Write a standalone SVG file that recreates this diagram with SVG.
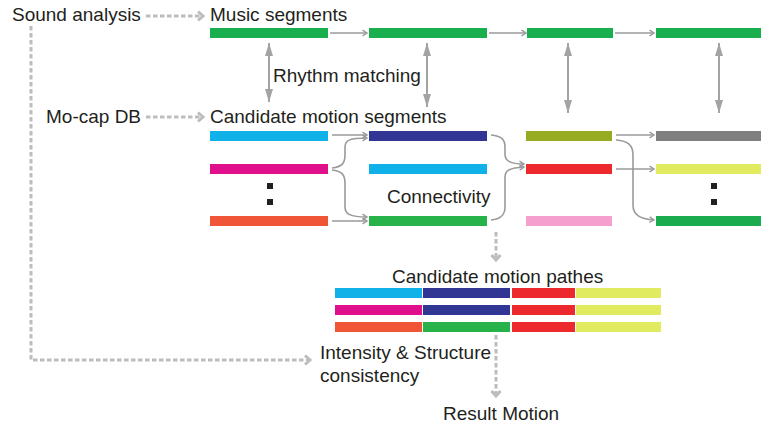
<svg xmlns="http://www.w3.org/2000/svg" width="762" height="426" viewBox="0 0 762 426">
<style>
text{font-family:"Liberation Sans",Arial,sans-serif;font-size:19px;fill:#231F20}
.thin{fill:none;stroke:#9A9A9A;stroke-width:1.6}
.dbl{fill:none;stroke:#A3A3A3;stroke-width:2}
.dash{fill:none;stroke:#BDBDBD;stroke-width:3;stroke-dasharray:4.5 2.5}
.dot{fill:#231F20}
</style>
<defs>
<marker id="th" markerUnits="userSpaceOnUse" markerWidth="8" markerHeight="8" refX="6" refY="4" orient="auto">
<path d="M1.5,1.2 L6,4 L1.5,6.8" fill="none" stroke="#9A9A9A" stroke-width="1.4"/>
</marker>
<marker id="tri" markerUnits="userSpaceOnUse" markerWidth="14" markerHeight="10" refX="13" refY="5" orient="auto-start-reverse">
<path d="M0,1 L13,5 L0,9 Z" fill="#A3A3A3"/>
</marker>
<marker id="chev" markerUnits="userSpaceOnUse" markerWidth="10" markerHeight="12" refX="7" refY="6" orient="auto">
<path d="M2,1.5 L7,6 L2,10.5" fill="none" stroke="#BDBDBD" stroke-width="3"/>
</marker>
</defs>

<g id="connectors">
<!-- dashed flows -->
<path class="dash" d="M146,16 H203" marker-end="url(#chev)"/>
<path class="dash" d="M146,117 H203" marker-end="url(#chev)"/>
<path class="dash" d="M31,26 V360 H310" marker-end="url(#chev)"/>
<path class="dash" d="M496,232 V260" marker-end="url(#chev)"/>
<path class="dash" d="M496,335 V396" marker-end="url(#chev)"/>
<!-- music segment arrows -->
<path class="thin" d="M330,33 H367" marker-end="url(#th)"/>
<path class="thin" d="M489,33 H526" marker-end="url(#th)"/>
<path class="thin" d="M615,33 H654" marker-end="url(#th)"/>
<!-- rhythm matching -->
<path class="dbl" d="M269,43 V102" marker-start="url(#tri)" marker-end="url(#tri)"/>
<path class="dbl" d="M427,43 V107" marker-start="url(#tri)" marker-end="url(#tri)"/>
<path class="dbl" d="M568,43 V113" marker-start="url(#tri)" marker-end="url(#tri)"/>
<path class="dbl" d="M719,43 V113" marker-start="url(#tri)" marker-end="url(#tri)"/>
<!-- connectivity col1->col2 -->
<path class="thin" d="M332,135 H367" marker-end="url(#th)"/>
<path class="thin" d="M332,168 C342,167 345,163 345,155 L345,147 C345,140 350,138 367,138" marker-end="url(#th)"/>
<path class="thin" d="M332,170 C342,171 345,175 345,183 L345,207 C345,214 350,217 367,217" marker-end="url(#th)"/>
<path class="thin" d="M332,221 H367" marker-end="url(#th)"/>
<!-- col2->col3 -->
<path class="thin" d="M491,135 C501,136 505,139 505,147 L505,154 C505,161 510,164 524,164" marker-end="url(#th)"/>
<path class="thin" d="M491,220 C501,219 505,215 505,207 L505,177 C505,170 510,168 524,167" marker-end="url(#th)"/>
<!-- col3->col4 -->
<path class="thin" d="M616,135 H654" marker-end="url(#th)"/>
<path class="thin" d="M616,140 C628,141 633,145 633,155 L633,205 C633,215 640,219 654,220" marker-end="url(#th)"/>
<path class="thin" d="M616,169 H654" marker-end="url(#th)"/>
</g>

<g id="sound-analysis"><text x="12" y="21">Sound analysis</text></g>
<g id="mocap-db"><text x="46" y="123">Mo-cap DB</text></g>

<g id="music-segments">
<text x="210" y="21">Music segments</text>
<rect x="210" y="28" width="118" height="10" fill="#1AAF4E"/>
<rect x="369" y="28" width="118" height="10" fill="#1AAF4E"/>
<rect x="527" y="28" width="86" height="10" fill="#1AAF4E"/>
<rect x="656" y="28" width="105" height="10" fill="#1AAF4E"/>
</g>

<g id="rhythm-matching"><text x="273" y="82">Rhythm matching</text></g>

<g id="candidate-motion-segments">
<text x="210" y="123">Candidate motion segments</text>
<rect x="210" y="131" width="118" height="10" fill="#10B0E8"/>
<rect x="210" y="164" width="118" height="10" fill="#E0108C"/>
<rect x="267" y="183" width="6" height="6" class="dot"/>
<rect x="267" y="199" width="6" height="6" class="dot"/>
<rect x="210" y="216" width="118" height="10" fill="#F05537"/>
<rect x="369" y="131" width="118" height="10" fill="#313593"/>
<rect x="369" y="164" width="118" height="10" fill="#10B0E8"/>
<rect x="369" y="216" width="118" height="10" fill="#27B24A"/>
<rect x="526" y="131" width="86" height="10" fill="#97AB22"/>
<rect x="526" y="164" width="86" height="10" fill="#EC2A2E"/>
<rect x="526" y="216" width="86" height="10" fill="#F49FCE"/>
<rect x="656" y="131" width="105" height="10" fill="#7F7F7F"/>
<rect x="656" y="164" width="105" height="10" fill="#E0EB60"/>
<rect x="711" y="183" width="6" height="6" class="dot"/>
<rect x="711" y="199" width="6" height="6" class="dot"/>
<rect x="656" y="216" width="105" height="10" fill="#1AAB4E"/>
</g>

<g id="connectivity"><text x="387" y="203">Connectivity</text></g>

<g id="candidate-motion-paths">
<text x="392" y="283">Candidate motion pathes</text>
<rect x="335" y="288" width="87" height="10" fill="#10B0E8"/>
<rect x="423" y="288" width="87" height="10" fill="#313593"/>
<rect x="512" y="288" width="63" height="10" fill="#EC2A2E"/>
<rect x="576" y="288" width="85" height="10" fill="#E0EB60"/>
<rect x="335" y="305" width="87" height="10" fill="#E0108C"/>
<rect x="423" y="305" width="87" height="10" fill="#313593"/>
<rect x="512" y="305" width="63" height="10" fill="#EC2A2E"/>
<rect x="576" y="305" width="85" height="10" fill="#E0EB60"/>
<rect x="335" y="322" width="87" height="10" fill="#F05537"/>
<rect x="423" y="322" width="87" height="10" fill="#27B24A"/>
<rect x="512" y="322" width="63" height="10" fill="#EC2A2E"/>
<rect x="576" y="322" width="85" height="10" fill="#E0EB60"/>
</g>

<g id="intensity-structure">
<text x="320" y="359">Intensity &amp; Structure</text>
<text x="320" y="382">consistency</text>
</g>

<g id="result-motion"><text x="443" y="420">Result Motion</text></g>
</svg>
